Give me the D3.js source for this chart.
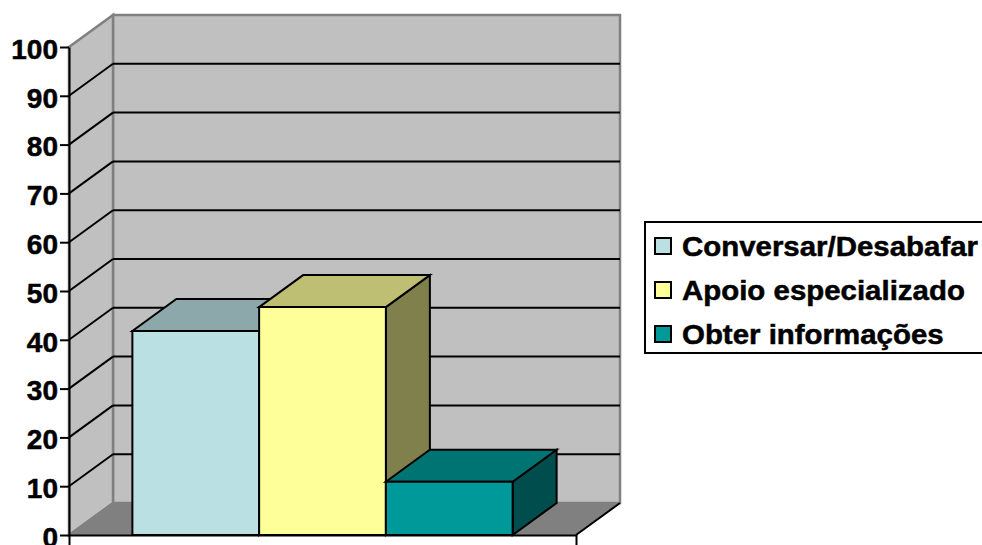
<!DOCTYPE html>
<html>
<head>
<meta charset="utf-8">
<script src="https://cdnjs.cloudflare.com/ajax/libs/d3/7.8.5/d3.min.js"></script>
<style>
  html, body { margin: 0; padding: 0; background: #fff; overflow: hidden; }
  text { font-family: "Liberation Sans", Arial, sans-serif; font-weight: bold; fill: #000; }
</style>
</head>
<body>
<div id="plot"></div>
<script>
var series = ["Conversar/Desabafar", "Apoio especializado", "Obter informações"];
var values = [41.8, 46.7, 10.9];
var yTicks = [0, 10, 20, 30, 40, 50, 60, 70, 80, 90, 100];
var frontColors = ["#BBE0E3", "#FFFF99", "#009999"];
var topColors = ["#8CA8AA", "#BFBF73", "#007373"];
var sideColors = ["#5E7072", "#80804D", "#004D4D"];

var w = 982, h = 545;

// front plane of the 3d box, the back plane is shifted by dx, dy
var plotLeft = 69, plotRight = 576, plotBottom = 535, plotTop = 47;
var dx = 44, dy = -32;

var y = d3.scaleLinear().domain([0, 100]).range([plotBottom, plotTop]);

var x = d3.scaleBand()
  .domain(series)
  .range([plotLeft, plotRight])
  .paddingInner(0)
  .paddingOuter(0.5);

var svg = d3.select("#plot")
  .append("svg")
  .attr("width", w)
  .attr("height", h)
  .style("display", "block");

function poly(points, fill, stroke, sw) {
  return svg.append("polygon")
    .attr("points", points.map(function(p) { return p.join(","); }).join(" "))
    .attr("fill", fill)
    .attr("stroke", stroke)
    .attr("stroke-width", sw)
    .attr("stroke-linejoin", "miter");
}

function seg(x1, y1, x2, y2, color, sw) {
  return svg.append("line")
    .attr("x1", x1).attr("y1", y1)
    .attr("x2", x2).attr("y2", y2)
    .attr("stroke", color)
    .attr("stroke-width", sw);
}

// walls and floor
poly([[plotLeft + dx, y(100) + dy], [plotRight + dx, y(100) + dy], [plotRight + dx, y(0) + dy], [plotLeft + dx, y(0) + dy]], "#C0C0C0", "#808080", 2.5);
poly([[plotLeft, y(100)], [plotLeft + dx, y(100) + dy], [plotLeft + dx, y(0) + dy], [plotLeft, y(0)]], "#C0C0C0", "#808080", 2.5);
poly([[plotLeft, y(0)], [plotLeft + dx, y(0) + dy], [plotRight + dx, y(0) + dy], [plotRight, y(0)]], "#808080", "#808080", 1);

// gridlines on side wall and back wall
yTicks.filter(function(d) { return d > 0 && d < 100; }).forEach(function(d) {
  seg(plotLeft, y(d), plotLeft + dx, y(d) + dy, "#000", 2);
  seg(plotLeft + dx, y(d) + dy, plotRight + dx, y(d) + dy, "#000", 2);
});

seg(plotRight, y(0), plotRight + dx, y(0) + dy, "#000", 2);

// bars
series.forEach(function(s, i) {
  var x0 = x(s), x1 = x(s) + x.bandwidth(), yv = y(values[i]), y0 = y(0);
  poly([[x1, yv], [x1 + dx, yv + dy], [x1 + dx, y0 + dy], [x1, y0]], sideColors[i], "#000", 2);
  poly([[x0, yv], [x0 + dx, yv + dy], [x1 + dx, yv + dy], [x1, yv]], topColors[i], "#000", 2);
  poly([[x0, yv], [x1, yv], [x1, y0], [x0, y0]], frontColors[i], "#000", 2);
});

// axes
var yAxis = svg.append("g")
  .attr("transform", "translate(" + plotLeft + ",0)")
  .call(d3.axisLeft(y).tickValues(yTicks).tickSize(9).tickSizeOuter(0).tickPadding(2));

yAxis.selectAll("path")
  .attr("stroke", "#000").attr("stroke-width", 2);
yAxis.selectAll("line")
  .attr("stroke", "#000").attr("stroke-width", 2);
yAxis.selectAll("text")
  .attr("font-size", 28)
  .attr("font-family", "'Liberation Sans', Arial, sans-serif")
  .attr("font-weight", "bold")
  .attr("dy", "0.4em")
  .attr("fill", "#000")
  .attr("stroke", "#000")
  .attr("stroke-width", 0.5);

var xEdge = d3.scaleLinear().domain([0, 1]).range([plotLeft, plotRight]);
var xAxis = svg.append("g")
  .attr("transform", "translate(0," + plotBottom + ")")
  .call(d3.axisBottom(xEdge).tickValues([0, 1]).tickSize(10).tickSizeOuter(0).tickFormat(""));
xAxis.selectAll("path").attr("stroke", "#000").attr("stroke-width", 2);
xAxis.selectAll("line").attr("stroke", "#000").attr("stroke-width", 2);

// legend
svg.append("rect")
  .attr("x", 645).attr("y", 222)
  .attr("width", 345).attr("height", 131)
  .attr("fill", "#fff").attr("stroke", "#000").attr("stroke-width", 2);

var rowY = d3.scalePoint().domain(series).range([246, 334]);

series.forEach(function(s, i) {
  svg.append("rect")
    .attr("x", 655).attr("y", rowY(s) - 8)
    .attr("width", 16).attr("height", 16)
    .attr("fill", frontColors[i]).attr("stroke", "#000").attr("stroke-width", 2);
  // reference type is wider than Liberation, so stretch it a bit
  svg.append("text")
    .attr("transform", "translate(682," + (rowY(s) + 10) + ") scale(1.09,1)")
    .attr("font-size", 27)
    .attr("stroke", "#000")
    .attr("stroke-width", 0.5)
    .text(s);
});
</script>
</body>
</html>
